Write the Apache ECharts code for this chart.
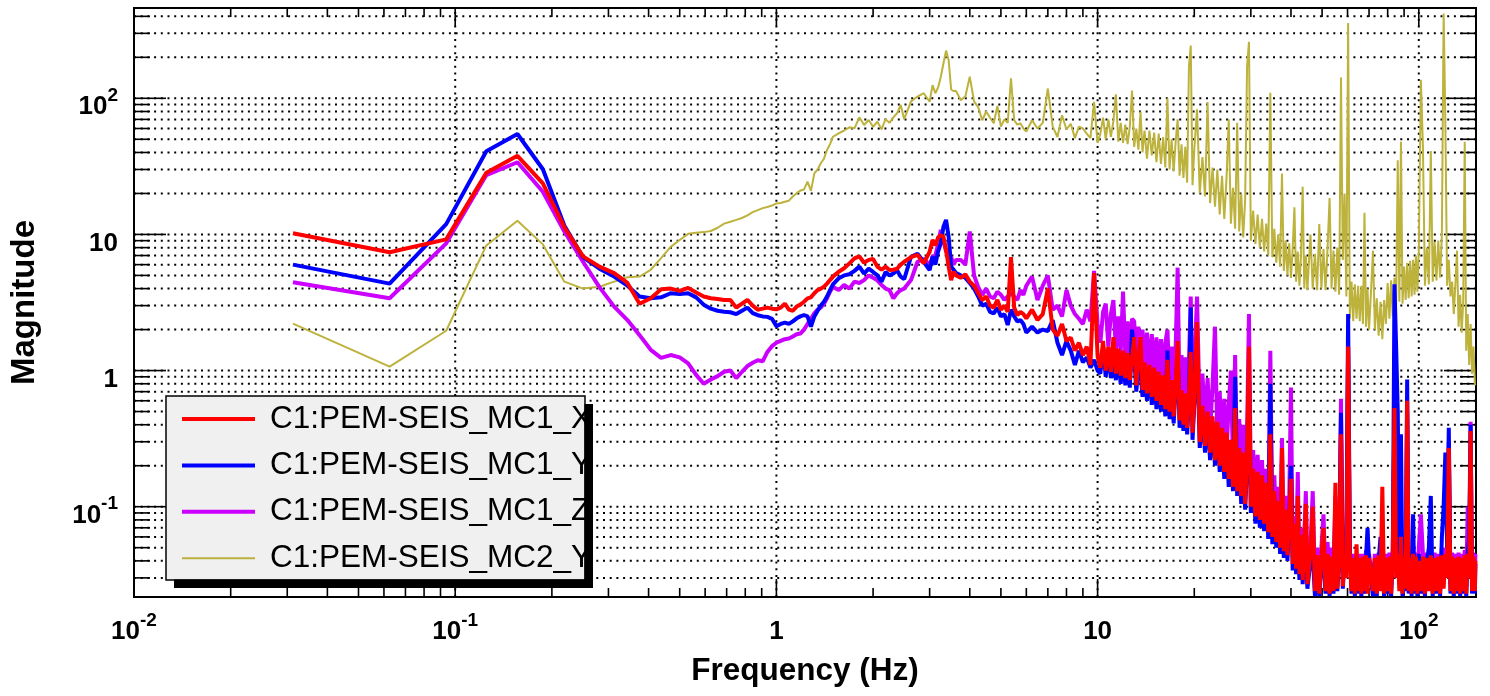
<!DOCTYPE html>
<html><head><meta charset="utf-8">
<script src="https://cdn.jsdelivr.net/npm/echarts@6/dist/echarts.min.js"></script>
<style>html,body{margin:0;padding:0;background:#fff;}#c{width:1490px;height:696px;}</style>
</head><body><div id="c"></div>
<script>
// ---------------- data ----------------
const names = ['C1:PEM-SEIS_MC1_X', 'C1:PEM-SEIS_MC1_Y', 'C1:PEM-SEIS_MC1_Z', 'C1:PEM-SEIS_MC2_Y'];

const freqs = [
  0.03125, 0.0625, 0.09375, 0.125, 0.15625, 0.1875, 0.21875, 0.25,
  0.28125, 0.3125, 0.34375, 0.375, 0.40625, 0.4375, 0.46875, 0.5,
  0.53125, 0.5625, 0.59375, 0.625, 0.65625, 0.6875, 0.71875, 0.75,
  0.78125, 0.8125, 0.84375, 0.875, 0.90625, 0.9375, 0.96875, 1,
  1.03125, 1.0625, 1.09375, 1.125, 1.15625, 1.1875, 1.21875, 1.25,
  1.28125, 1.3125, 1.34375, 1.375, 1.40625, 1.4375, 1.46875, 1.5,
  1.5625, 1.625, 1.6875, 1.75, 1.8125, 1.875, 1.9375, 2, 2.0625, 2.125, 2.1875, 2.25, 2.3125, 2.375, 2.4375, 2.5,
  2.625, 2.75, 2.875, 3, 3.0625, 3.125, 3.1875, 3.25, 3.3125, 3.375, 3.4375, 3.5, 3.5625, 3.625, 3.75, 3.875, 4,
  4.125, 4.25, 4.375, 4.5, 4.625, 4.75, 4.875, 5, 5.125, 5.25, 5.375, 5.5, 5.625, 5.75, 5.875, 6,
  6.25, 6.5, 6.75, 7, 7.25, 7.5, 7.75, 8, 8.25, 8.5, 8.75, 9, 9.25, 9.5, 9.75, 10,
  10.2, 10.4, 10.6, 10.8, 11, 11.2, 11.4, 11.6, 11.8, 12, 12.2, 12.4, 12.6, 12.8, 13, 13.2, 13.4, 13.6, 13.8, 14,
  14.25, 14.5, 14.75, 15, 15.25, 15.5, 15.75, 16, 16.25, 16.5, 16.75, 17, 17.25, 17.5, 17.75, 18, 18.25, 18.5, 18.75, 19, 19.25, 19.5, 19.75, 20,
  20.4, 20.8, 21.2, 21.6, 22, 22.4, 22.8, 23.2, 23.6, 24, 24.4, 24.8, 25.2, 25.6, 26, 26.4, 26.8, 27.2, 27.6, 28, 28.4, 28.8, 29.2, 29.6, 30,
  30.5, 31, 31.5, 32, 32.5, 33, 33.5, 34, 34.5, 35, 35.5, 36, 36.5, 37, 37.5, 38, 38.5, 39, 39.5, 40, 40.5, 41, 41.5, 42, 42.5, 43, 43.5, 44, 44.5, 45,
  46, 46.75, 47.5, 48.25, 49, 49.75, 50.5, 51.25, 52, 52.75, 53.5, 54.25, 55, 55.75, 56.5, 57.25, 58, 58.75, 59.5, 60.25, 61, 61.75, 62.5, 63.25, 64, 64.75, 65.5, 66.25, 67, 67.75, 68.5, 69.25, 70,
  71, 72, 73, 74, 75, 76, 77, 78, 79, 80, 81, 82, 83, 84, 85, 86, 87, 88, 89, 90, 91, 92, 93, 94, 95, 96, 97, 98, 99, 100,
  101.5, 103, 104.5, 106, 107.5, 109, 110.5, 112, 113.5, 115, 116.5, 118, 119.5, 121, 122.5, 124, 125.5, 127, 128.5, 130, 131.5, 133, 134.5, 136, 137.5, 139, 140.5, 142, 143.5, 145, 146.5, 148, 149.5, 150
];

const mc1X = [
  10.2, 7.4, 9.2, 28.4, 37.8, 23.7, 11.3, 6.9,
  5.8, 5.2, 4.4, 3.1, 3.4, 3.95, 4.0, 3.85,
  4.05, 3.75, 3.5, 3.4, 3.35, 3.3, 3.3, 2.9,
  3.1, 3.3, 3.0, 2.8, 2.85, 2.9, 2.85, 2.82,
  2.9, 3.1, 2.8, 2.75, 2.95, 3.05, 3.2, 3.39,
  3.45, 3.7, 3.9, 4.0, 4.13, 4.35, 4.62, 4.9,
  5.32, 5.64, 6.13, 6.67, 6.9, 6.2, 6.5, 6.6, 5.8, 5.5, 5.8, 5.47, 5.5, 5.6, 6.0, 6.3,
  6.8, 7.07, 6.13, 7.46, 9.1, 8.3, 9.5, 9.9, 9.6, 7.7, 5.8, 4.62, 5.32, 5.0, 4.8, 5.1, 4.5,
  4.2, 3.7, 3.3, 3.5, 3.0, 2.9, 3.3, 2.8, 3.0, 2.7, 6.8, 2.9, 2.56, 2.7, 2.6, 2.42,
  2.8, 2.35, 2.6, 4.0, 2.0, 1.8, 2.2, 1.65, 1.75, 1.4, 1.6, 1.3, 1.5, 1.1, 5.2, 1.27,
  1.05, 1.65, 1.0, 1.5, 0.98, 1.76, 0.95, 1.45, 0.92, 1.4, 0.88, 1.35, 0.85, 1.25, 1.76, 0.78, 1.2, 1.76, 0.72, 1.15,
  0.68, 1.1, 0.64, 1.05, 0.6, 0.98, 0.56, 0.92, 0.52, 1.2, 0.5, 0.85, 0.46, 0.8, 1.65, 0.43, 0.72, 0.4, 0.68, 0.38, 0.65, 1.37, 0.35, 0.6,
  2.27, 0.3, 0.55, 0.28, 0.5, 0.25, 0.46, 0.22, 0.42, 0.2, 0.38, 0.18, 0.35, 0.16, 0.31, 0.14, 0.53, 0.13, 0.27, 0.12, 0.25, 0.105, 0.23, 1.5, 0.1,
  0.19, 0.085, 0.18, 0.08, 0.17, 0.075, 0.15, 0.065, 0.34, 0.06, 0.13, 0.055, 0.11, 0.05, 0.27, 0.047, 0.095, 0.044, 0.09, 0.16, 0.038, 0.075, 0.035, 0.12, 0.032, 0.062, 0.029, 0.055, 0.105, 0.027,
  0.045, 0.1, 0.024, 0.044, 0.023, 0.042, 0.07, 0.024, 0.045, 0.023, 0.043, 0.024, 0.15, 0.025, 0.044, 0.34, 0.026, 0.045, 0.03, 1.5, 0.04, 0.024, 0.042, 0.023, 0.053, 0.024, 0.042, 0.023, 0.043, 0.024, 0.044, 0.023, 0.042,
  0.043, 0.024, 0.042, 0.023, 0.044, 0.024, 0.14, 0.023, 0.042, 0.024, 0.043, 0.023, 0.045, 0.53, 0.03, 0.045, 0.024, 0.06, 0.023, 0.043, 0.025, 0.6, 0.024, 0.042, 0.023, 0.045, 0.024, 0.043, 0.023, 0.04,
  0.024, 0.043, 0.023, 0.042, 0.024, 0.044, 0.023, 0.042, 0.024, 0.043, 0.023, 0.044, 0.025, 0.045, 0.03, 0.27, 0.024, 0.043, 0.023, 0.042, 0.024, 0.043, 0.023, 0.042, 0.024, 0.044, 0.023, 0.045, 0.03, 0.36, 0.024, 0.043, 0.024, 0.04
];

const mc1Y = [
  6.0, 4.35, 11.9, 40.8, 54.7, 30.1, 11.6, 6.8,
  5.6, 4.9, 4.2, 3.5, 3.4, 3.45, 3.7, 3.65,
  3.7, 3.45, 3.05, 2.85, 2.75, 2.7, 2.68, 2.6,
  2.75, 2.9, 2.64, 2.55, 2.5, 2.48, 2.4, 2.12,
  2.2, 2.25, 2.2, 2.3, 2.42, 2.5, 2.56, 2.5,
  2.1, 2.5, 2.75, 3.0, 3.2, 3.5, 3.9, 4.3,
  4.76, 5.0, 5.1, 5.4, 5.8, 5.16, 5.6, 5.3, 5.0, 4.5, 5.3, 5.0, 5.16, 5.47, 4.9, 4.7,
  6.86, 7.2, 6.3, 5.47, 6.9, 6.0, 7.5, 8.6, 11.4, 12.8, 9.6, 5.8, 5.5, 5.2, 5.0, 4.8, 4.4,
  4.0, 3.5, 3.0, 3.1, 2.7, 2.63, 2.9, 2.5, 2.6, 2.16, 2.8, 2.5, 2.3, 2.35, 2.2, 1.9,
  2.1, 1.9, 2.0, 1.95, 2.35, 1.6, 1.3, 1.65, 1.4, 1.1, 1.4, 1.15, 1.25, 1.05, 1.2, 1.0,
  0.95, 1.5, 0.9, 1.35, 0.88, 1.2, 0.85, 1.3, 0.8, 1.25, 0.78, 1.2, 0.75, 2.0, 1.3, 0.7, 1.1, 1.0, 0.64, 1.05,
  0.6, 1.0, 0.56, 0.95, 0.52, 0.9, 0.5, 0.85, 0.46, 1.4, 0.44, 0.8, 0.41, 0.75, 1.4, 0.38, 0.68, 0.36, 0.64, 0.34, 0.6, 2.9, 0.31, 0.56,
  1.5, 0.27, 0.5, 0.25, 0.46, 0.22, 0.42, 0.2, 0.38, 0.18, 0.35, 0.16, 0.32, 0.14, 0.28, 0.13, 0.9, 0.12, 0.25, 0.105, 0.22, 0.095, 0.2, 1.0, 0.09,
  0.17, 0.075, 0.16, 0.07, 0.15, 0.066, 0.13, 0.058, 0.8, 0.053, 0.115, 0.05, 0.1, 0.045, 0.1, 0.042, 0.085, 0.04, 0.08, 0.2, 0.034, 0.068, 0.032, 0.06, 0.029, 0.056, 0.027, 0.05, 0.045, 0.025,
  0.04, 0.045, 0.022, 0.04, 0.022, 0.04, 0.04, 0.023, 0.042, 0.022, 0.04, 0.023, 0.1, 0.024, 0.042, 0.49, 0.025, 0.043, 0.05, 2.6, 0.05, 0.023, 0.04, 0.022, 0.04, 0.023, 0.04, 0.022, 0.04, 0.023, 0.042, 0.07, 0.04,
  0.04, 0.022, 0.04, 0.022, 0.04, 0.06, 0.06, 0.022, 0.04, 0.023, 0.04, 0.022, 0.043, 4.3, 1.5, 0.5, 0.03, 0.34, 0.022, 0.04, 0.024, 0.86, 0.023, 0.04, 0.022, 0.088, 0.023, 0.04, 0.022, 0.045,
  0.023, 0.04, 0.022, 0.04, 0.05, 0.12, 0.022, 0.04, 0.023, 0.04, 0.022, 0.06, 0.1, 0.25, 0.05, 0.38, 0.023, 0.04, 0.022, 0.04, 0.023, 0.04, 0.022, 0.04, 0.023, 0.042, 0.022, 0.045, 0.06, 0.4, 0.023, 0.04, 0.023, 0.038
];

const mc1Z = [
  4.45, 3.4, 8.6, 27.3, 33.9, 20.6, 10.5, 6.3,
  4.1, 2.95, 2.35, 1.82, 1.42, 1.24, 1.3, 1.25,
  1.13, 0.93, 0.8, 0.86, 0.91, 0.98, 1.0, 0.88,
  0.98, 1.08, 1.14, 1.19, 1.17, 1.37, 1.51, 1.6,
  1.65, 1.7, 1.72, 1.78, 1.85, 1.87, 2.0, 2.2,
  2.4, 2.63, 2.8, 2.9, 3.1, 3.4, 3.8, 4.13,
  3.9, 4.25, 4.0, 4.5, 4.4, 4.62, 5.0, 4.8, 4.6, 4.25, 4.0, 3.9, 3.39, 3.7, 3.9, 4.0,
  4.62, 6.3, 6.6, 6.0, 6.8, 7.0, 8.5, 10.8, 9.0, 7.5, 7.0, 6.8, 6.0, 6.5, 6.5, 6.0, 10.5,
  5.0, 4.1, 3.6, 4.0, 3.5, 3.4, 3.8, 3.6, 3.3, 3.5, 3.7, 3.5, 3.3, 3.9, 3.6, 4.2,
  4.9, 3.3, 4.2, 5.0, 2.8, 3.0, 2.5, 3.9, 3.0, 2.6, 2.4, 2.2, 2.8, 2.3, 5.4, 2.2,
  1.6, 2.7, 3.1, 1.5, 2.6, 3.3, 1.4, 2.5, 1.35, 3.8, 1.3, 2.3, 1.2, 2.4, 2.3, 1.1, 2.1, 1.05, 2.0, 1.0,
  1.9, 0.95, 1.85, 0.9, 1.75, 0.85, 1.7, 0.8, 1.6, 2.0, 0.75, 1.5, 0.7, 1.45, 5.7, 0.62, 1.3, 0.58, 1.25, 0.55, 1.15, 3.5, 0.5, 1.05,
  3.5, 0.45, 0.95, 0.42, 0.88, 0.36, 0.78, 2.1, 0.32, 0.7, 0.28, 0.62, 0.25, 0.56, 1.0, 0.2, 1.3, 0.18, 0.44, 0.16, 0.4, 0.15, 0.36, 2.6, 0.14,
  0.26, 0.11, 0.24, 0.1, 0.22, 0.09, 0.19, 0.08, 1.4, 0.075, 0.17, 0.065, 0.14, 0.058, 0.32, 0.054, 0.12, 0.05, 0.11, 0.75, 0.042, 0.085, 0.039, 0.18, 0.035, 0.07, 0.032, 0.06, 0.13, 0.03,
  0.05, 0.13, 0.028, 0.05, 0.027, 0.05, 0.088, 0.028, 0.055, 0.027, 0.05, 0.028, 0.12, 0.028, 0.05, 0.62, 0.03, 0.05, 0.04, 1.5, 0.045, 0.027, 0.045, 0.026, 0.045, 0.027, 0.045, 0.026, 0.045, 0.027, 0.048, 0.027, 0.045,
  0.045, 0.027, 0.045, 0.026, 0.046, 0.027, 0.05, 0.026, 0.045, 0.027, 0.046, 0.026, 0.048, 0.45, 0.035, 0.05, 0.027, 0.05, 0.026, 0.046, 0.028, 0.5, 0.027, 0.045, 0.026, 0.05, 0.027, 0.046, 0.026, 0.05,
  0.088, 0.045, 0.026, 0.046, 0.027, 0.048, 0.026, 0.046, 0.027, 0.045, 0.026, 0.05, 0.028, 0.05, 0.035, 0.3, 0.027, 0.046, 0.026, 0.045, 0.027, 0.046, 0.026, 0.045, 0.027, 0.048, 0.026, 0.1, 0.035, 0.42, 0.027, 0.046, 0.027, 0.045
];

const mc2Y = [
  2.21, 1.07, 1.96, 8.3, 12.6, 8.45, 4.5, 4.0,
  4.13, 4.5, 4.85, 4.9, 5.5, 6.7, 8.1, 9.1,
  10.1, 10.3, 10.4, 10.6, 11.2, 12.0, 12.4, 12.8,
  13.2, 13.8, 14.6, 15.1, 15.6, 15.9, 16.3, 16.9,
  17.0, 17.4, 17.7, 19.0, 20.1, 21.0, 21.4, 24.4,
  20.9, 28.1, 30, 33.3, 36, 41.7, 46, 52.2,
  55.3, 58, 61.2, 60.2, 72.5, 63.7, 69.3, 61.8, 67.3, 59.2, 70.2, 66, 72.5, 77.6, 89.3, 70.2,
  95, 103, 109, 94.4, 125, 109, 120, 144, 181, 224, 191, 116, 113, 113, 97, 103, 144,
  95, 86, 69, 80, 72, 65.5, 88, 62, 70, 66, 140, 69, 64, 65.5, 60, 57,
  69, 60, 66, 118, 62, 52, 75, 59, 65, 51, 62, 60, 55, 51, 94, 47,
  55, 72, 50, 70, 52, 68, 107, 48, 66, 47, 64, 46, 62, 114, 44, 60, 42, 80, 40, 58,
  36, 58, 38, 56, 34, 55, 33, 52, 31, 100, 30, 50, 29, 48, 70, 27, 46, 26, 44, 24, 171, 244, 23, 42,
  83, 20, 37, 19, 94, 17, 31, 16, 30, 14, 27, 13, 26, 70, 12, 22, 11, 66, 10.5, 20, 9.5, 18, 171, 260, 9,
  15, 8.5, 14, 8, 13, 7.5, 12, 7, 110, 6.8, 11, 6.2, 10, 5.8, 28, 5.4, 9, 5, 8.6, 4.8, 8, 15.8, 4.5, 7.5, 4.2, 7.2, 22.4, 4, 7, 3.9,
  10, 4, 7.2, 3.9, 11.9, 4, 7.8, 3.9, 8, 18.5, 4, 7.6, 3.8, 8, 3.6, 142, 6.5, 20, 3.5, 357, 2.4, 4.5, 2.3, 4.3, 2.4, 4.2, 2.3, 4.2, 2.2, 14.4, 2.1, 4.0, 2.0,
  3.8, 7.6, 2.0, 3.4, 1.8, 3.2, 1.7, 3.3, 2.2, 4.4, 2.4, 4.6, 2.5, 4.8, 3.0, 35, 3.2, 48, 3.1, 5.8, 3.3, 6.2, 3.4, 6.4, 3.5, 6.5, 3.6, 7.0, 3.8, 7.5,
  137, 45, 4.2, 8, 4.3, 41, 4.5, 8.8, 4.6, 9, 4.8, 10, 420, 66, 4.2, 6.5, 3.5, 4.5, 2.6, 4.3, 7.6, 2.1, 3.6, 1.9, 3.2, 48, 1.4, 2.6, 1.1, 2.2, 0.95, 1.5, 0.8, 0.78
];

const xMajorTicks = [0.01, 0.1, 1, 10, 100];
const xMinorTicks = [0.02, 0.03, 0.04, 0.05, 0.06, 0.07, 0.08, 0.09,
  0.2, 0.3, 0.4, 0.5, 0.6, 0.7, 0.8, 0.9, 2, 3, 4, 5, 6, 7, 8, 9,
  20, 30, 40, 50, 60, 70, 80, 90];
const yMajorTicks = [0.1, 1, 10, 100];
const yMinorTicks = [0.03, 0.04, 0.05, 0.06, 0.07, 0.08, 0.09,
  0.2, 0.3, 0.4, 0.5, 0.6, 0.7, 0.8, 0.9, 2, 3, 4, 5, 6, 7, 8, 9,
  20, 30, 40, 50, 60, 70, 80, 90, 200, 300, 400];

const X_MIN = 0.01, X_MAX = 150.7, Y_MIN = 0.02171, Y_MAX = 460.6;
const colors = ['#ff0000', '#0000ff', '#cc00ff', '#bdb23c'];

// ---------------- chart ----------------
const chart = echarts.init(document.getElementById('c'), null, {renderer: 'canvas'});
const FONT = 'Liberation Sans';

function powLabel(v) {
  const l = Math.log10(v);
  const e = Math.round(l);
  if (Math.abs(l - e) > 1e-6) return '';
  if (e === 0) return '{b|1}';
  if (e === 1) return '{b|10}';
  return '{b|10}{s|' + e + '}';
}
const rich = {
  b: {fontFamily: FONT, fontSize: 26, fontWeight: 'bold', color: '#000', lineHeight: 34, verticalAlign: 'bottom'},
  s: {fontFamily: FONT, fontSize: 19, fontWeight: 'bold', color: '#000', lineHeight: 14, verticalAlign: 'top'}
};

const pair = arr => freqs.map((f, i) => [f, arr[i]]);

const xTickData = xMajorTicks.map(v => [v, Y_MIN, 1]).concat(xMinorTicks.map(v => [v, Y_MIN, 0]));
const yTickData = yMajorTicks.map(v => [X_MIN, v, 1]).concat(yMinorTicks.map(v => [X_MIN, v, 0]));

const dotted = {stroke: '#000', lineWidth: 2, lineDash: [2, 4.7]};
const tickStyle = {stroke: '#000', lineWidth: 1.6};

// legend frame (ROOT style box with a hard drop shadow)
const LEG = {x: 166, y: 396, w: 419, h: 184, sh: 8};

const option = {
  animation: false,
  backgroundColor: '#fff',
  textStyle: {fontFamily: FONT},
  grid: {left: 134, right: 14, top: 8, bottom: 99, show: true, borderColor: '#000', borderWidth: 2, backgroundColor: 'transparent'},
  xAxis: {
    type: 'log', min: X_MIN, max: X_MAX,
    axisLine: {show: false}, axisTick: {show: false}, splitLine: {show: false}, minorTick: {show: false},
    axisLabel: {formatter: powLabel, rich: rich, margin: 14, showMaxLabel: false, showMinLabel: true},
    name: 'Frequency (Hz)', nameLocation: 'middle', nameGap: 58,
    nameTextStyle: {fontFamily: FONT, fontSize: 31.5, fontWeight: 'bold', color: '#000'}
  },
  yAxis: {
    type: 'log', min: Y_MIN, max: Y_MAX,
    axisLine: {show: false}, axisTick: {show: false}, splitLine: {show: false}, minorTick: {show: false},
    axisLabel: {formatter: powLabel, rich: rich, margin: 16, showMaxLabel: false, showMinLabel: false, padding: [10, 0, 0, 0]},
    name: 'Magnitude', nameLocation: 'middle', nameGap: 93, nameRotate: 90,
    nameTextStyle: {fontFamily: FONT, fontSize: 33, fontWeight: 'bold', color: '#000'}
  },
  graphic: [
    {type: 'rect', z: 3, silent: true, shape: {x: LEG.x, y: LEG.y, width: LEG.w, height: LEG.h},
     style: {fill: '#f0f0f0', stroke: '#000', lineWidth: 1.5}},
    {type: 'rect', z: 6, silent: true, shape: {x: LEG.x + LEG.w - 0.5, y: LEG.y + LEG.sh, width: LEG.sh + 0.5, height: LEG.h}, style: {fill: '#000'}},
    {type: 'rect', z: 6, silent: true, shape: {x: LEG.x + LEG.sh, y: LEG.y + LEG.h - 0.5, width: LEG.w, height: LEG.sh + 0.5}, style: {fill: '#000'}}
  ],
  legend: {
    orient: 'vertical', left: LEG.x, top: LEG.y, z: 4,
    data: [
      {name: names[0]}, {name: names[1]}, {name: names[2]},
      {name: names[3], icon: 'path://M0,0 M73,4 M0,1 L73,1 L73,3 L0,3 Z'}
    ],
    selectedMode: false, icon: 'rect',
    itemWidth: 73, itemHeight: 4, itemGap: 14.4,
    padding: [7, 0, 6, 16],
    backgroundColor: 'transparent', borderWidth: 0,
    textStyle: {fontFamily: FONT, fontSize: 31.5, color: '#000', lineHeight: 32, padding: [0, 0, 0, 10]}
  },
  series: [
    {
      type: 'custom', coordinateSystem: 'cartesian2d', silent: true, z: 1,
      data: yTickData, clip: false,
      renderItem: (params, api) => {
        const v = api.value(1), major = api.value(2);
        const p = api.coord([X_MIN, v]), q = api.coord([X_MAX, v]);
        const len = major ? 32 : 16;
        return {type: 'group', children: [
          {type: 'line', shape: {x1: p[0], y1: p[1], x2: q[0], y2: q[1]}, style: dotted},
          {type: 'line', shape: {x1: p[0], y1: p[1], x2: p[0] + len, y2: p[1]}, style: tickStyle},
          {type: 'line', shape: {x1: q[0] - len, y1: q[1], x2: q[0], y2: q[1]}, style: tickStyle}
        ]};
      }
    },
    {
      type: 'custom', coordinateSystem: 'cartesian2d', silent: true, z: 1,
      data: xTickData, clip: false,
      renderItem: (params, api) => {
        const v = api.value(0), major = api.value(2);
        const b = api.coord([v, Y_MIN]), t = api.coord([v, Y_MAX]);
        const len = major ? 18 : 9;
        const ch = [
          {type: 'line', shape: {x1: b[0], y1: b[1], x2: b[0], y2: b[1] - len}, style: tickStyle},
          {type: 'line', shape: {x1: t[0], y1: t[1], x2: t[0], y2: t[1] + len}, style: tickStyle}
        ];
        if (major && v > X_MIN * 1.5) ch.push({type: 'line', shape: {x1: b[0], y1: b[1], x2: t[0], y2: t[1]}, style: dotted});
        return {type: 'group', children: ch};
      }
    },
    {name: names[3], type: 'line', data: pair(mc2Y), z: 2, symbol: 'none', showSymbol: false,
     lineStyle: {color: colors[3], width: 2}, itemStyle: {color: colors[3]}},
    {name: names[2], type: 'line', data: pair(mc1Z), z: 2, symbol: 'none', showSymbol: false,
     lineStyle: {color: colors[2], width: 4}, itemStyle: {color: colors[2]}},
    {name: names[1], type: 'line', data: pair(mc1Y), z: 2, symbol: 'none', showSymbol: false,
     lineStyle: {color: colors[1], width: 4}, itemStyle: {color: colors[1]}},
    {name: names[0], type: 'line', data: pair(mc1X), z: 2, symbol: 'none', showSymbol: false,
     lineStyle: {color: colors[0], width: 4}, itemStyle: {color: colors[0]}}
  ]
};
chart.setOption(option);
</script></body></html>
